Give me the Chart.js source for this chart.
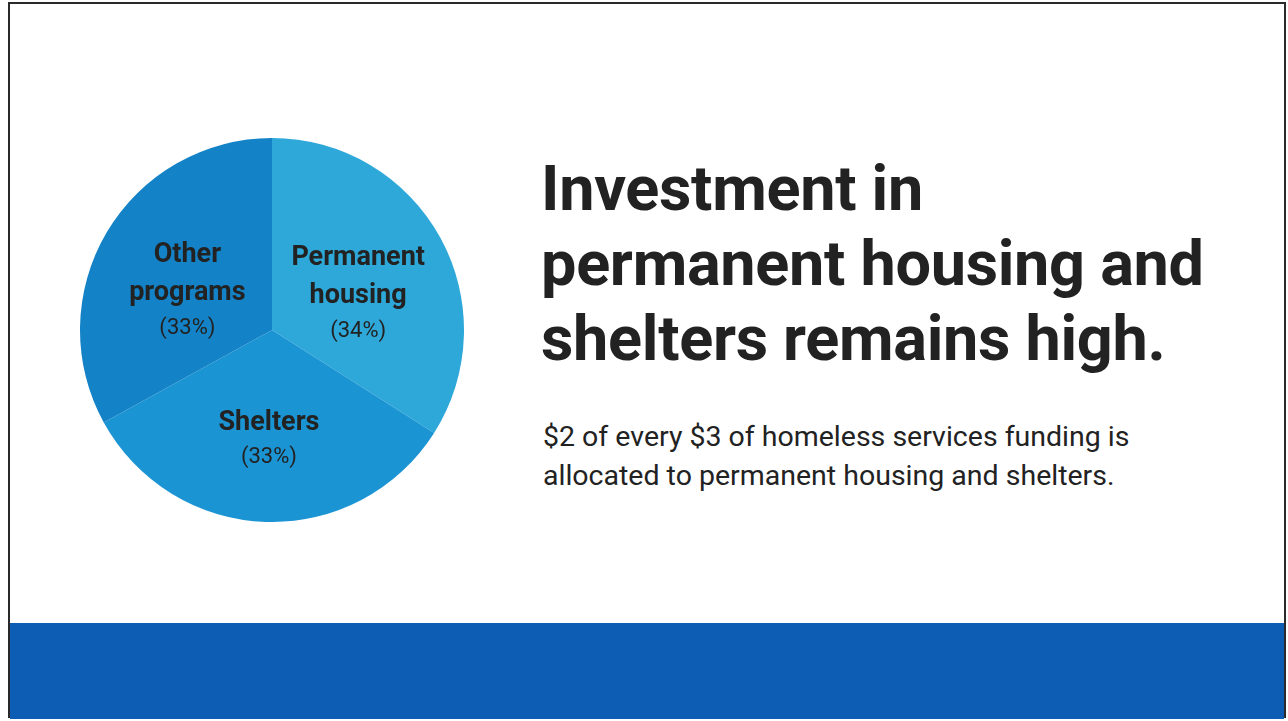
<!DOCTYPE html>
<html>
<head>
<meta charset="utf-8">
<script src="https://cdn.jsdelivr.net/npm/chart.js@4.4.1/dist/chart.umd.min.js"></script>
<style>
  html, body { margin: 0; padding: 0; background: #fff; }
  body { width: 1288px; height: 721px; position: relative; overflow: hidden; font-family: Roboto, "Noto Sans", sans-serif; }
  .frame { position: absolute; left: 8px; top: 2px; width: 1274px; height: 714px; border: 2px solid #2a2a2a; border-bottom: none; }
  .band { position: absolute; left: 10px; top: 623px; width: 1274px; height: 96px; background: #0d5db5; }
  .pie-wrap { position: absolute; left: 80px; top: 138px; width: 384px; height: 384px; }
  h1 { position: absolute; left: 541px; top: 151px; margin: 0; font-size: 63px; line-height: 75px; font-weight: 700; color: #222; letter-spacing: -0.3px; }
  p { position: absolute; left: 543px; top: 417px; margin: 0; font-size: 28.5px; line-height: 39px; color: #222; }
</style>
</head>
<body>
<div class="frame"></div>
<div class="band"></div>
<div class="pie-wrap"><canvas id="chartFunding"></canvas></div>
<h1>Investment in<br>permanent housing and<br>shelters remains high.</h1>
<p>$2 of every $3 of homeless services funding is<br>allocated to permanent housing and shelters.</p>

<script>
const kategori = ["Permanent housing", "Shelters", "Other programs"];
const labelBaris = [["Permanent", "housing"], ["Shelters"], ["Other", "programs"]];
const persen = [34, 33, 33];
const warna = ["#2da8d9", "#1b94d3", "#1482c7"];

// label di dalam tiap irisan: nama (tebal) lalu persen
const labelIrisan = {
    id: "labelIrisan",
    afterDatasetsDraw(chart) {
        const { ctx } = chart;
        const meta = chart.getDatasetMeta(0);
        meta.data.forEach((arc, i) => {
            const { x, y, startAngle, endAngle, outerRadius } = arc.getProps(
                ["x", "y", "startAngle", "endAngle", "outerRadius"],
                true
            );
            const mid = (startAngle + endAngle) / 2;
            const r = outerRadius * 0.512;
            const cx = x + Math.cos(mid) * r;
            const cy = y + Math.sin(mid) * r + 12;

            const nama = labelBaris[i];
            const tinggi = (nama.length - 1) * 38 + 35;
            const yy = cy - tinggi / 2;

            ctx.save();
            ctx.textAlign = "center";
            ctx.textBaseline = "middle";
            ctx.fillStyle = "#222";
            ctx.font = "bold 27px Roboto";
            nama.forEach((baris, j) => {
                ctx.fillText(baris, cx, yy + j * 38);
            });
            ctx.font = "22px Roboto";
            ctx.fillText("(" + persen[i] + "%)", cx, yy + tinggi);
            ctx.restore();
        });
    },
};

new Chart(document.getElementById("chartFunding"), {
    type: "pie",
    data: {
        labels: kategori,
        datasets: [
            {
                data: persen,
                backgroundColor: warna,
                borderWidth: 0,
            },
        ],
    },
    options: {
        responsive: true,
        maintainAspectRatio: false,
        animation: false,
        layout: { padding: 0 },
        plugins: {
            legend: { display: false },
            tooltip: { enabled: false },
        },
    },
    plugins: [labelIrisan],
});
</script>
</body>
</html>
